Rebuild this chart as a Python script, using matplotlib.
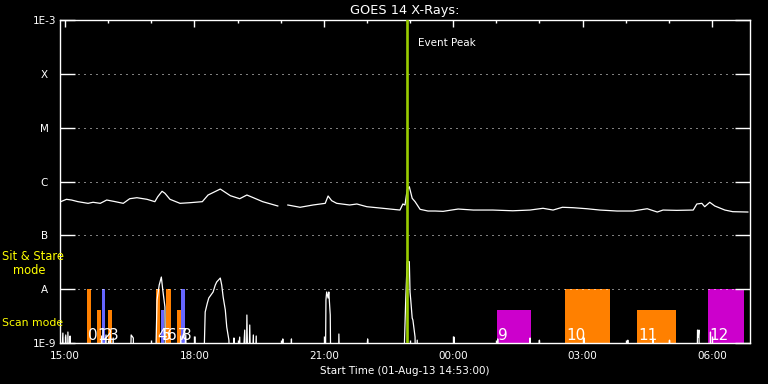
import numpy as np
import matplotlib
matplotlib.use("Agg")
import matplotlib.pyplot as plt
from matplotlib.patches import Rectangle

# temps en minutes depuis le debut (01-Aug-13 14:53:00)
long_t = [1, 9, 16, 25, 39, 46, 56, 65, 77, 88, 97, 107, 121, 132, 136, 142, 146, 153, 167, 181,
          198, 206, 223, 237, 250, 260, 269, 282, 303, 310, 317, 334, 352, 369, 373, 378, 385, 403,
          413, 427, 449, 473, 477, 480, 483, 486, 490, 494, 501, 512, 522, 533, 554, 575, 602, 630,
          654, 672, 686, 699, 714, 733, 751, 775, 797, 817, 831, 839, 858, 881, 886, 893, 897, 904,
          911, 925, 936, 957]
long_flux = [4.22e-7, 4.67e-7, 4.53e-7, 4.22e-7, 3.93e-7, 4.11e-7, 3.93e-7, 4.53e-7, 4.22e-7, 3.93e-7,
             4.79e-7, 5.0e-7, 4.67e-7, 4.22e-7, 5.21e-7, 6.58e-7, 6.04e-7, 4.67e-7, 3.93e-7, 4.04e-7,
             4.22e-7, 5.61e-7, 7.24e-7, 5.45e-7, 4.79e-7, 5.61e-7, 5.0e-7, 4.22e-7, 3.51e-7, np.nan,
             3.66e-7, 3.32e-7, 3.66e-7, 3.93e-7, 5.38e-7, 4.40e-7, 3.93e-7, 3.66e-7,
             3.82e-7, 3.40e-7, 3.18e-7, 2.95e-7, 3.82e-7, 3.66e-7, 6.95e-7, 8.0e-7, 4.87e-7, 4.22e-7,
             3.04e-7, 2.83e-7, 2.83e-7, 2.79e-7, 3.08e-7, 2.95e-7, 2.95e-7, 2.86e-7,
             2.95e-7, 3.18e-7, 2.95e-7, 3.32e-7, 3.26e-7, 3.12e-7, 2.95e-7, 2.83e-7, 2.83e-7, 3.12e-7,
             2.71e-7, 2.95e-7, 2.91e-7, 2.95e-7, 3.82e-7, 3.93e-7, 3.40e-7, 4.11e-7,
             3.51e-7, 2.95e-7, 2.75e-7, 2.71e-7]

# courbe du bas (pics), 1e-10 = sous l'axe
low_t = [0, 4, 6, 8, 10, 11, 13, 14, 15,
         56, 58, 60, 64, 65, 70, 71, 74, 75,
         97, 99, 102, 103,
         132, 135, 138, 141, 143, 146, 147,
         167, 168, 170, 175, 177, 185, 188, 189,
         199, 202, 205, 207, 210, 213, 216, 218, 223, 225, 227, 230, 232, 235, 237,
         241, 242, 243, 250, 252, 257, 259, 260, 262, 264, 266, 269, 270, 273, 274,
         309, 310, 311, 321, 322, 323,
         369, 370, 371, 373, 374, 376, 377, 387, 388, 390, 427, 428, 429,
         477, 480, 481, 483, 486, 487, 488, 490, 491, 494, 495, 497, 498,
         547, 548, 549, 608, 609, 610, 653, 654, 655, 666, 667, 668,
         728, 729, 730, 789, 790, 791, 824, 825, 826, 847, 848, 849,
         886, 887, 888, 889, 890, 904, 905, 906, 960]
low_flux = [1e-10, 1.53e-9, 1e-10, 1.41e-9, 1e-10, 1.6e-9, 1e-10, 1.35e-9, 1e-10,
            1e-10, 1.35e-9, 1e-10, 1.41e-9, 1e-10, 1.47e-9, 1e-10, 1.24e-9, 1e-10,
            1e-10, 1.41e-9, 1.24e-9, 1e-10,
            1e-10, 6.3e-9, 1.19e-8, 1.68e-8, 9.6e-9, 4.66e-9, 1e-10,
            1e-10, 1.35e-9, 1e-10, 1.41e-9, 1e-10, 1e-10, 1.29e-9, 1e-10,
            1e-10, 3.77e-9, 5.53e-9, 6.85e-9, 7.78e-9, 8.86e-9, 1.19e-8, 1.36e-8, 1.61e-8, 1.19e-8,
            7.15e-9, 4.1e-9, 1.98e-9, 1.13e-9, 1e-10,
            1e-10, 1.24e-9, 1e-10, 1.29e-9, 1e-10, 1.74e-9, 1e-10, 3.31e-9, 1e-10, 2.16e-9, 1e-10,
            1.41e-9, 1e-10, 1.35e-9, 1e-10,
            1e-10, 1.19e-9, 1e-10, 1e-10, 1.19e-9, 1e-10,
            1e-10, 6.3e-9, 8.86e-9, 6.85e-9, 8.86e-9, 3.31e-9, 1e-10, 1e-10, 1.47e-9, 1e-10,
            1e-10, 1.19e-9, 1e-10,
            1e-10, 2.16e-9, 6.3e-9, 3.24e-8, 3.24e-8, 8.86e-9, 6.3e-9, 2.91e-9, 2.67e-9, 1.29e-9,
            1e-10, 1.13e-9, 1e-10,
            1e-10, 1.29e-9, 1e-10, 1e-10, 1.19e-9, 1e-10, 1e-10, 1.24e-9, 1e-10, 1e-10, 1.13e-9, 1e-10,
            1e-10, 1.24e-9, 1e-10, 1e-10, 1.13e-9, 1e-10, 1e-10, 1.19e-9, 1e-10, 1e-10, 1.13e-9, 1e-10,
            1e-10, 1.74e-9, 1.29e-9, 1.74e-9, 1e-10, 1e-10, 1.6e-9, 1e-10, 1e-10]

# observations : debut, fin (minutes), mode, couleur
obs_start = [38, 51, 58, 67, 134, 141, 148, 163, 169, 608, 703, 803, 902]
obs_end = [43, 57, 63, 73, 139, 144, 154, 169, 174, 655, 765, 857, 951]
obs_mode = ['sit', 'scan', 'sit', 'scan', 'sit', 'scan', 'sit', 'scan', 'sit', 'scan', 'sit', 'scan', 'sit']
obs_color = ['#ff8000', '#ff8000', '#6666ff', '#ff8000', '#ff8000', '#6666ff', '#ff8000', '#ff8000',
             '#6666ff', '#cc00cc', '#ff8000', '#ff8000', '#cc00cc']
mode_top = {'sit': 1e-8, 'scan': 4.1e-9}

event_peak = 483

xtick_pos = [7, 187, 367, 547, 727, 907]
xtick_labels = ['15:00', '18:00', '21:00', '00:00', '03:00', '06:00']
ytick_pos = [1e-9, 1e-8, 1e-7, 1e-6, 1e-5, 1e-4, 1e-3]
ytick_labels = ['1E-9', 'A', 'B', 'C', 'M', 'X', '1E-3']

W, H = 768, 384
fig = plt.figure(figsize=(W / 100, H / 100), dpi=100, facecolor='black')
ax = fig.add_axes([60 / W, 1 - 343 / H, 690 / W, 323 / H], facecolor='black')

ax.set_yscale('log')
ax.set_xlim(0, 960)
ax.set_ylim(1e-9, 1e-3)

for i in range(len(obs_start)):
    top = mode_top[obs_mode[i]]
    ax.add_patch(Rectangle((obs_start[i], 1e-9), obs_end[i] - obs_start[i], top - 1e-9,
                           facecolor=obs_color[i], edgecolor='none', zorder=1))
    ax.text(obs_start[i] + 1, 1.13e-9, str(i), color='white', fontsize=11,
            ha='left', va='baseline', zorder=4)

ax.plot(low_t, low_flux, color='white', lw=0.9, zorder=2)
ax.plot(long_t, long_flux, color='white', lw=0.9, zorder=2)
ax.axvline(event_peak, color='#99cc00', lw=1.9, zorder=3)
ax.text(event_peak + 15, 3.74e-4, 'Event Peak', color='white', fontsize=7.5, va='center', ha='left')

# axes
for s in ax.spines.values():
    s.set_color('white')
    s.set_linewidth(1.0)
ax.set_xticks(xtick_pos)
ax.set_xticklabels(xtick_labels)
ax.set_xticks(np.arange(67, 960, 60), minor=True)
ax.tick_params(axis='x', which='major', direction='in', length=5, width=1, colors='white',
               top=True, bottom=True, labelsize=7.5, pad=6)
ax.tick_params(axis='x', which='minor', direction='in', length=2.4, width=1, colors='white',
               top=True, bottom=True)
ax.set_yticks(ytick_pos)
ax.set_yticklabels(ytick_labels)
ax.yaxis.set_minor_locator(matplotlib.ticker.NullLocator())
ax.tick_params(axis='y', which='major', direction='in', length=10.8, width=1, colors='white',
               left=True, right=True, labelsize=7.5, pad=11.2)
for lab in ax.get_yticklabels():
    lab.set_horizontalalignment('center')
ax.set_axisbelow(False)
ax.grid(axis='y', which='major', color='white', lw=0.72, linestyle=(0, (1, 5)))

ax.set_title('GOES 14 X-Rays:', color='white', fontsize=9.3, pad=4)
ax.set_xlabel('Start Time (01-Aug-13 14:53:00)', color='white', fontsize=7.5, labelpad=3)

fig.text(2 / W, 1 - 257 / H, 'Sit & Stare', color='yellow', fontsize=8.3, va='center', ha='left')
fig.text(13 / W, 1 - 271 / H, 'mode', color='yellow', fontsize=8.3, va='center', ha='left')
fig.text(2 / W, 1 - 323 / H, 'Scan mode', color='yellow', fontsize=7.8, va='center', ha='left')

fig.savefig('out.png', dpi=100, facecolor='black')
